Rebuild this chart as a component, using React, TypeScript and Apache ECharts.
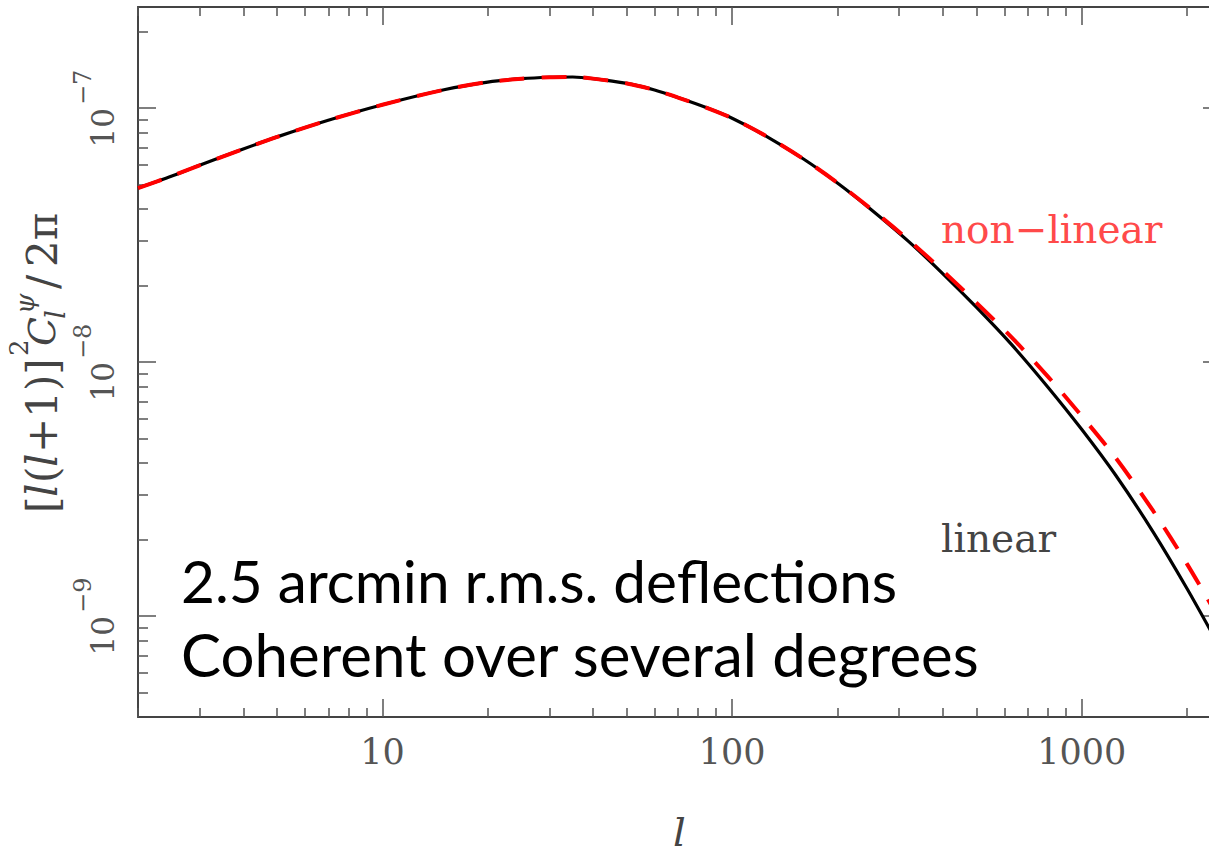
import { useEffect, useRef } from "react";
import * as echarts from "echarts";

// multipole l
const multipoles = [2, 2.5, 3, 4, 5, 7, 10, 15, 20, 25, 30, 35, 40, 50, 60, 70, 85, 100, 125, 160, 200, 250, 320, 400, 500, 630, 800, 1000, 1250, 1600, 2000, 2500];
// [l(l+1)]^2 C_l^psi / 2pi, linear theory
const linearCl = [4.84e-8, 5.4e-8, 5.95e-8, 6.9e-8, 7.7e-8, 8.95e-8, 1.03e-7, 1.18e-7, 1.265e-7, 1.305e-7, 1.322e-7, 1.325e-7, 1.306e-7, 1.25e-7, 1.178e-7, 1.1e-7, 1.0e-7, 9.12e-8, 7.76e-8, 6.3e-8, 5.07e-8, 3.98e-8, 2.98e-8, 2.23e-8, 1.64e-8, 1.17e-8, 7.96e-9, 5.42e-9, 3.58e-9, 2.14e-9, 1.28e-9, 7.38e-10];
// non-linear
const nonLinearCl = [4.84e-8, 5.4e-8, 5.95e-8, 6.9e-8, 7.7e-8, 8.95e-8, 1.03e-7, 1.18e-7, 1.265e-7, 1.305e-7, 1.322e-7, 1.325e-7, 1.306e-7, 1.25e-7, 1.178e-7, 1.1e-7, 1.0e-7, 9.12e-8, 7.76e-8, 6.3e-8, 5.08e-8, 4.0e-8, 3.02e-8, 2.29e-8, 1.71e-8, 1.25e-8, 8.76e-9, 6.12e-9, 4.19e-9, 2.59e-9, 1.6e-9, 9.45e-10];

const xMajorTicks = [10, 100, 1000];
const xMinorTicks = [2, 3, 4, 5, 6, 7, 8, 9, 20, 30, 40, 50, 60, 70, 80, 90, 200, 300, 400, 500, 600, 700, 800, 900, 2000];
const yMajorTicks = [1e-9, 1e-8, 1e-7];
const yMinorTicks = [5e-10, 6e-10, 7e-10, 8e-10, 9e-10, 2e-9, 3e-9, 4e-9, 5e-9, 6e-9, 7e-9, 8e-9, 9e-9, 2e-8, 3e-8, 4e-8, 5e-8, 6e-8, 7e-8, 8e-8, 9e-8, 2e-7];

const X_MIN = 2;
const X_MAX = 2500;
const Y_MIN = 4e-10;
const Y_MAX = 2.5e-7;

const annotationLines = ["2.5 arcmin r.m.s. deflections", "Coherent over several degrees"];

const SERIF = "DejaVu Serif";
const AXIS_COLOR = "#444";
const TICK_COLOR = "#555";
const LABEL_COLOR = "#555";

function baseAxis(type: "x" | "y", position: string, ticks: number[], len: number, withLine: boolean) {
  return {
    type: "log",
    logBase: 10,
    min: type === "x" ? X_MIN : Y_MIN,
    max: type === "x" ? X_MAX : Y_MAX,
    gridIndex: 0,
    position,
    axisLine: { show: withLine, onZero: false, lineStyle: { color: AXIS_COLOR, width: 2 } },
    axisTick: { show: ticks.length > 0, inside: true, length: len, customValues: ticks.length ? ticks : undefined, lineStyle: { color: TICK_COLOR, width: 1.5 } },
    axisLabel: { show: false },
    splitLine: { show: false },
    minorTick: { show: false },
    minorSplitLine: { show: false },
  } as any;
}

export default function App() {
  const ref = useRef<HTMLDivElement>(null);
  useEffect(() => {
    document.body.style.margin = "0";
    document.documentElement.style.overflow = "hidden";
    document.body.style.overflow = "hidden";
    if (!ref.current) return;
    const chart = echarts.init(ref.current, null, { renderer: "svg" });
    const toPairs = (vals: number[]) => multipoles.map((l, i) => [l, vals[i]]);

    const xMain = baseAxis("x", "bottom", xMinorTicks, 9, true);
    xMain.axisLabel = {
      show: true,
      customValues: xMajorTicks,
      margin: 17,
      fontFamily: SERIF,
      fontSize: 35,
      color: LABEL_COLOR,
      formatter: (v: number) => String(Math.round(v)),
    };
    xMain.name = "l";
    xMain.nameLocation = "middle";
    xMain.nameGap = 95;
    xMain.nameTextStyle = { fontFamily: SERIF, fontStyle: "italic", fontSize: 40, color: "#444" };

    const yMain = baseAxis("y", "left", yMinorTicks, 10, true);
    yMain.axisLabel = {
      show: true,
      customValues: yMajorTicks,
      rotate: 90,
      margin: 20,
      align: "right",
      verticalAlign: "bottom",
      fontFamily: SERIF,
      fontSize: 31,
      color: LABEL_COLOR,
      formatter: () => "10",
    };
    const yExp = baseAxis("y", "left", [], 0, false);
    yExp.axisLabel = {
      show: true,
      customValues: yMajorTicks,
      rotate: 90,
      margin: 43,
      align: "left",
      verticalAlign: "bottom",
      padding: [0, 0, 0, 3],
      fontFamily: SERIF,
      fontSize: 24,
      color: LABEL_COLOR,
      formatter: (v: number) => `\u2212${Math.round(-Math.log10(v))}`,
    };

    const titlePieces = [
      { text: "[", x: 0, y: 0, size: 42, italic: false },
      { text: "l", x: 16, y: 0, size: 42, italic: true },
      { text: "(", x: 30, y: 0, size: 42, italic: false },
      { text: "l", x: 46, y: 0, size: 42, italic: true },
      { text: "+1)]", x: 60, y: 0, size: 42, italic: false },
      { text: "2", x: 157, y: -23, size: 26, italic: false },
      { text: "C", x: 167, y: 0, size: 38, italic: true },
      { text: "l", x: 194, y: 13, size: 28, italic: true },
      { text: "\u03c8", x: 199, y: -17, size: 26, italic: true },
      { text: "/", x: 224, y: 0, size: 42, italic: false },
      { text: "2\u03c0", x: 246, y: 0, size: 42, italic: false },
    ];
    const titleChildren = titlePieces.map((p) => ({
      type: "text",
      x: p.x,
      y: p.y,
      style: {
        text: p.text,
        fontFamily: SERIF,
        fontSize: p.size,
        fontStyle: p.italic ? "italic" : "normal",
        fill: "#444",
        align: "left",
        verticalAlign: "middle",
      },
    }));

    const option: any = {
      animation: false,
      backgroundColor: "#fff",
      grid: { left: 138, top: 7, width: 1083, height: 726, containLabel: false },
      xAxis: [
        xMain,
        baseAxis("x", "bottom", xMajorTicks, 18, false),
        baseAxis("x", "top", xMinorTicks, 9, true),
        baseAxis("x", "top", xMajorTicks, 18, false),
      ],
      yAxis: [
        yMain,
        baseAxis("y", "left", yMajorTicks, 18, false),
        baseAxis("y", "right", yMinorTicks, 10, true),
        baseAxis("y", "right", yMajorTicks, 18, false),
        yExp,
      ],
      series: [
        {
          name: "linear",
          type: "line",
          xAxisIndex: 0,
          yAxisIndex: 0,
          data: toPairs(linearCl),
          smooth: 0.3,
          showSymbol: false,
          symbol: "none",
          lineStyle: { color: "#000", width: 3.2 },
          z: 3,
        },
        {
          name: "non-linear",
          type: "line",
          xAxisIndex: 0,
          yAxisIndex: 0,
          data: toPairs(nonLinearCl),
          smooth: 0.3,
          showSymbol: false,
          symbol: "none",
          lineStyle: { color: "#ff0000", width: 4, type: [25, 17] },
          z: 4,
        },
      ],
      graphic: [
        { type: "group", x: 42, y: 513, rotation: Math.PI / 2, children: titleChildren },
        {
          type: "text",
          x: 941,
          y: 229,
          style: { text: "non\u2212linear", fontFamily: SERIF, fontSize: 39, fill: "#ff4a4a", align: "left", verticalAlign: "middle" },
        },
        {
          type: "text",
          x: 941,
          y: 538,
          style: { text: "linear", fontFamily: SERIF, fontSize: 39, fill: "#444", align: "left", verticalAlign: "middle" },
        },
        {
          type: "text",
          x: 181,
          y: 580,
          style: { text: annotationLines[0], fontFamily: "Lato", fontSize: 58.5, fill: "#000", align: "left", verticalAlign: "middle" },
        },
        {
          type: "text",
          x: 181,
          y: 654,
          style: { text: annotationLines[1], fontFamily: "Lato", fontSize: 60, fill: "#000", align: "left", verticalAlign: "middle" },
        },
      ],
    };
    chart.setOption(option);
    return () => chart.dispose();
  }, []);
  return <div ref={ref} style={{ width: 1240, height: 857 }} />;
}
